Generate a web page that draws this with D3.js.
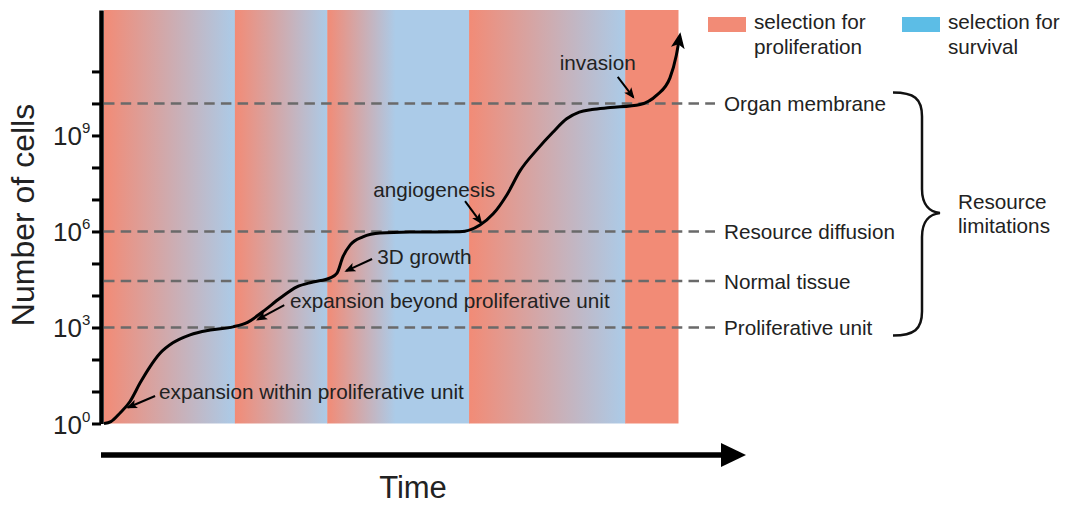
<!DOCTYPE html>
<html>
<head>
<meta charset="utf-8">
<script src="https://cdn.jsdelivr.net/npm/d3@7"></script>
<style>
  body { margin: 0; background: #fff; }
  text { font-family: "Liberation Sans", Arial, sans-serif; fill: #222; }
</style>
</head>
<body>
<div id="chart-container"></div>
<script>
// selection regimes along the time axis (time units 0-100)
const bandStart = [0, 22.8, 38.9, 63.6, 90.8];
const bandEnd = [22.8, 38.9, 63.6, 90.8, 100];
const bandFade = [1, 1, 0.48, 1, 0]; // share of the band over which red fades to blue

// tumour growth curve: time, log10(number of cells)
const curveTime = [0, 1.2, 2.8, 4.5, 6.3, 8.0, 9.8, 12.0, 15.0, 18.5, 22.5, 25.0, 27.7, 30.7, 33.6, 36.4, 39.4, 40.6, 41.6, 42.9, 45.1, 48.1, 53.3, 62.0, 65.5, 67.8, 70.2, 72.5, 75.4, 78.2, 80.6, 82.8, 85.0, 88.2, 93.4, 96.3, 98.6, 99.7, 100.3];
const curveExp = [0, 0.06, 0.33, 0.68, 1.27, 1.77, 2.20, 2.52, 2.77, 2.92, 3.02, 3.16, 3.50, 3.92, 4.27, 4.42, 4.55, 4.70, 5.20, 5.58, 5.83, 5.95, 5.98, 5.99, 6.20, 6.55, 7.15, 7.90, 8.55, 9.10, 9.52, 9.73, 9.81, 9.87, 9.97, 10.26, 10.80, 11.5, 12.1];

// resource limitations
const limitNames = ["Organ membrane", "Resource diffusion", "Normal tissue", "Proliferative unit"];
const limitExp = [10, 6, 4.45, 3];

// y axis
const tickExp = [0, 1, 2, 3, 4, 5, 6, 7, 8, 9, 10, 11];
const labelExp = [0, 3, 6, 9];

// annotations: text anchor and arrow (tail -> tip), in time / log10 units
const noteText = ["expansion within proliferative unit", "expansion beyond proliferative unit", "3D growth", "angiogenesis", "invasion"];
const noteT = [9.6, 32.4, 47.6, 46.9, 79.4];
const noteE = [0.77, 3.62, 4.98, 7.08, 11.05];
const tailT = [8.9, 31.4, 46.7, 62.9, 89.5];
const tailE = [0.86, 3.70, 5.14, 6.95, 10.83];
const tipT = [4.2, 26.8, 42.2, 65.7, 92.2];
const tipE = [0.50, 3.25, 4.77, 6.27, 10.2];

const legendNames = [["selection for", "proliferation"], ["selection for", "survival"]];

const red = "#f28b76";
const blue = "#abcbe8";
const legendColors = [red, "#5cbde6"];

const width = 1068, height = 506;
const fontSize = "20.7px";

const svg = d3.select("#chart-container")
  .append("svg")
  .attr("width", width)
  .attr("height", height);

const x = d3.scaleLinear().domain([0, 100]).range([104, 678]);
const y = d3.scaleLog().domain([1, Math.pow(10, 12.92)]).range([423.5, 10]);

const defs = svg.append("defs");

// background bands
bandStart.forEach((s, i) => {
  const g = defs.append("linearGradient")
    .attr("id", "band" + i)
    .attr("x1", "0%").attr("x2", "100%").attr("y1", "0%").attr("y2", "0%");
  g.append("stop").attr("offset", 0).attr("stop-color", red);
  if (bandFade[i] > 0) {
    g.append("stop").attr("offset", bandFade[i]).attr("stop-color", blue);
    g.append("stop").attr("offset", 1).attr("stop-color", blue);
  } else {
    g.append("stop").attr("offset", 1).attr("stop-color", red);
  }
});

svg.append("g")
  .selectAll("rect")
  .data(bandStart)
  .enter()
  .append("rect")
  .attr("x", (d) => x(d))
  .attr("y", y.range()[1])
  .attr("width", (d, i) => x(bandEnd[i]) - x(d) + 0.5)
  .attr("height", y.range()[0] - y.range()[1])
  .attr("fill", (d, i) => "url(#band" + i + ")");

// dashed limit lines
svg.append("g")
  .selectAll("line")
  .data(limitExp)
  .enter()
  .append("line")
  .attr("x1", x(0))
  .attr("x2", 715)
  .attr("y1", (d) => y(Math.pow(10, d)))
  .attr("y2", (d) => y(Math.pow(10, d)))
  .style("stroke", "#6a6a6a")
  .style("stroke-width", 2.5)
  .style("stroke-dasharray", "10.5,6.2");

svg.append("g")
  .selectAll("text")
  .data(limitNames)
  .enter()
  .append("text")
  .attr("x", 724)
  .attr("y", (d, i) => y(Math.pow(10, limitExp[i])))
  .attr("dy", "0.36em")
  .style("font-size", fontSize)
  .text((d) => d);

// brace
const bTop = y(Math.pow(10, limitExp[0])) - 11;
const bBot = y(Math.pow(10, limitExp[3])) + 8;
const bMid = (bTop + bBot) / 2 - 1;
svg.append("path")
  .attr("d",
    `M893,${bTop} C914,${bTop} 922,${bTop + 6} 922,${bTop + 24}` +
    ` L922,${bMid - 24} C922,${bMid - 8} 930,${bMid - 1} 940,${bMid}` +
    ` C930,${bMid + 1} 922,${bMid + 8} 922,${bMid + 24}` +
    ` L922,${bBot - 24} C922,${bBot - 6} 914,${bBot} 893,${bBot}`)
  .style("fill", "none")
  .style("stroke", "#111")
  .style("stroke-width", 2.5);

const rl = svg.append("text").attr("x", 958).attr("y", bMid).style("font-size", fontSize);
rl.append("tspan").attr("x", 958).attr("dy", "-0.2em").text("Resource");
rl.append("tspan").attr("x", 958).attr("dy", "1.15em").text("limitations");

// arrow markers
defs.append("marker")
  .attr("id", "head")
  .attr("markerUnits", "userSpaceOnUse")
  .attr("viewBox", "0 -7 16 14")
  .attr("refX", 12).attr("refY", 0)
  .attr("markerWidth", 16).attr("markerHeight", 14)
  .attr("orient", "auto")
  .append("path")
  .attr("d", "M0,-7 L16,0 L0,7 L4,0 Z")
  .attr("fill", "#000");

defs.append("marker")
  .attr("id", "small")
  .attr("markerUnits", "userSpaceOnUse")
  .attr("viewBox", "0 -5 11 10")
  .attr("refX", 9).attr("refY", 0)
  .attr("markerWidth", 11).attr("markerHeight", 10)
  .attr("orient", "auto")
  .append("path")
  .attr("d", "M0,-4.5 L11,0 L0,4.5 L2.5,0 Z")
  .attr("fill", "#000");

// growth curve
const line = d3.line()
  .x((d) => x(d[0]))
  .y((d) => y(Math.pow(10, d[1])))
  .curve(d3.curveMonotoneX);

svg.append("path")
  .datum(curveTime.map((t, i) => [t, curveExp[i]]))
  .attr("d", line)
  .style("fill", "none")
  .style("stroke", "#000")
  .style("stroke-width", 3)
  .attr("marker-end", "url(#head)");

// annotations
const notes = svg.append("g");
noteText.forEach((txt, i) => {
  notes.append("line")
    .attr("x1", x(tailT[i])).attr("y1", y(Math.pow(10, tailE[i])))
    .attr("x2", x(tipT[i])).attr("y2", y(Math.pow(10, tipE[i])))
    .style("stroke", "#000")
    .style("stroke-width", 2)
    .attr("marker-end", "url(#small)");
  notes.append("text")
    .attr("x", x(noteT[i]))
    .attr("y", y(Math.pow(10, noteE[i])))
    .style("font-size", fontSize)
    .text(txt);
});

// y axis
const yAxis = svg.append("g")
  .attr("transform", "translate(101,0)")
  .call(d3.axisLeft(y)
    .tickValues(tickExp.map((e) => Math.pow(10, e)))
    .tickFormat("")
    .tickSize(9)
    .tickSizeOuter(0));
yAxis.select(".domain").style("stroke", "#000").style("stroke-width", 4.5);
yAxis.selectAll(".tick line").style("stroke", "#000").style("stroke-width", 3);

const labels = svg.append("g")
  .selectAll("g")
  .data(labelExp)
  .enter()
  .append("g")
  .attr("transform", (d) => "translate(0," + y(Math.pow(10, d)) + ")");
labels.append("text")
  .attr("x", 82).attr("y", 10)
  .attr("text-anchor", "end")
  .style("font-size", "26px")
  .text("10");
labels.append("text")
  .attr("x", 82).attr("y", -2)
  .style("font-size", "15px")
  .text((d) => d);

svg.append("text")
  .attr("transform", "translate(34,215) rotate(-90)")
  .attr("text-anchor", "middle")
  .style("font-size", "32px")
  .text("Number of cells");

// time arrow
svg.append("line")
  .attr("x1", 101).attr("x2", 726)
  .attr("y1", 455).attr("y2", 455)
  .style("stroke", "#000")
  .style("stroke-width", 5.5);
svg.append("path")
  .attr("d", "M721,443 L746,455 L721,467 Z")
  .attr("fill", "#000");

svg.append("text")
  .attr("x", 413).attr("y", 498)
  .attr("text-anchor", "middle")
  .style("font-size", "31px")
  .text("Time");

// legend
const legend = svg.append("g")
  .selectAll("g")
  .data(legendNames)
  .enter()
  .append("g")
  .attr("transform", (d, i) => "translate(" + (708 + i * 194) + ",0)");
legend.append("rect")
  .attr("x", 0).attr("y", 17)
  .attr("width", 38).attr("height", 15)
  .attr("fill", (d, i) => legendColors[i]);
legend.append("text")
  .attr("x", 46).attr("y", 29)
  .style("font-size", fontSize)
  .text((d) => d[0]);
legend.append("text")
  .attr("x", 46).attr("y", 54)
  .style("font-size", fontSize)
  .text((d) => d[1]);
</script>
</body>
</html>
